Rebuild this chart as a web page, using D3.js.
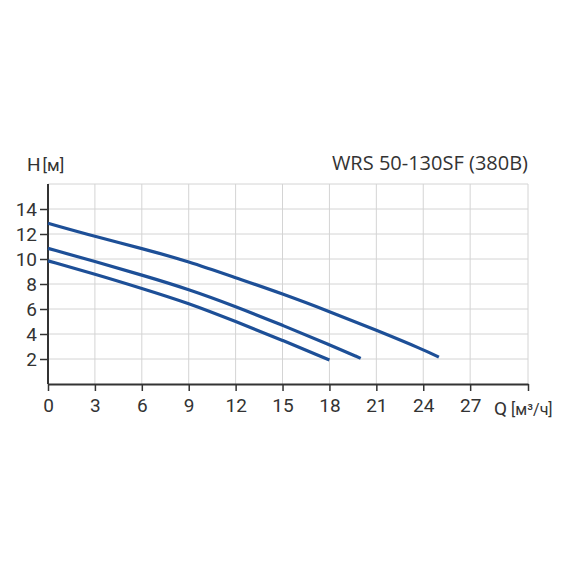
<!DOCTYPE html>
<html>
<head>
<meta charset="utf-8">
<script src="https://cdn.jsdelivr.net/npm/d3@7"></script>
<style>
  body { margin: 0; background: #fff; }
  text { fill: #333; }
</style>
</head>
<body>
<div id="chart"></div>
<script>
// curve data (Q m3/h, H m)
var curve_top_q = [0, 3, 6, 9, 12, 15, 18, 21, 24, 25];
var curve_top_h = [12.86, 11.8, 10.85, 9.8, 8.5, 7.22, 5.8, 4.3, 2.75, 2.15];
var curve_mid_q = [0, 3, 6, 9, 12, 15, 18, 20];
var curve_mid_h = [10.85, 9.8, 8.72, 7.58, 6.2, 4.7, 3.15, 2.05];
var curve_low_q = [0, 3, 6, 9, 12, 15, 18];
var curve_low_h = [9.85, 8.8, 7.65, 6.47, 5.0, 3.5, 1.92];
var x_ticks = [0, 3, 6, 9, 12, 15, 18, 21, 24, 27];
var y_ticks = [2, 4, 6, 8, 10, 12, 14];
var title_text = 'WRS 50-130SF (380В)';

const svg_width = 570, svg_height = 570;
const plot_left = 48, plot_right = 528, plot_top = 184, plot_bottom = 384;
const curve_color = '#1d4f97';

var svg = d3.select('#chart').append('svg')
  .attr('width', svg_width)
  .attr('height', svg_height);

var x = d3.scaleLinear().domain([0, 30.7]).range([plot_left, plot_right]);
var y = d3.scaleLinear().domain([0, 16]).range([plot_bottom, plot_top]);

// grid
var grid = svg.append('g').attr('stroke', '#d4d4d4').attr('stroke-width', 1);
x_ticks.concat([30.7]).forEach(function(t){
  if (t === 0) return;
  grid.append('line')
    .attr('x1', x(t)).attr('x2', x(t))
    .attr('y1', plot_top).attr('y2', plot_bottom);
});
y_ticks.concat([16]).forEach(function(t){
  grid.append('line')
    .attr('x1', plot_left).attr('x2', plot_right)
    .attr('y1', y(t)).attr('y2', y(t));
});

// axes
var xAxis = d3.axisBottom(x).tickValues(x_ticks.concat([30.7]))
  .tickFormat(function(d){ return d > 28 ? '' : d; })
  .tickSize(7).tickSizeOuter(0).tickPadding(8);
var gx = svg.append('g')
  .attr('transform', `translate(0,${plot_bottom})`)
  .call(xAxis);
var yAxis = d3.axisLeft(y).tickValues(y_ticks)
  .tickSize(8).tickSizeOuter(0).tickPadding(3);
var gy = svg.append('g')
  .attr('transform', `translate(${plot_left},0)`)
  .call(yAxis);

[gx, gy].forEach(function(g){
  g.select('.domain').attr('stroke', '#333').attr('stroke-width', 2);
  g.selectAll('.tick line').attr('stroke', '#333').attr('stroke-width', 1.5);
  g.selectAll('.tick text')
    .attr('font-family', 'Roboto, sans-serif')
    .attr('font-size', 19)
    .attr('fill', '#333');
});
gy.select('.domain').attr('d', `M0,${plot_top}V${plot_bottom}`);

// curves
var line = d3.line()
  .x(d => x(d[0]))
  .y(d => y(d[1]))
  .curve(d3.curveBasis);

[[curve_top_q, curve_top_h], [curve_mid_q, curve_mid_h], [curve_low_q, curve_low_h]]
  .forEach(function(c){
    var pts = c[0].map((q, i) => [q, c[1][i]]);
    svg.append('path')
      .datum(pts)
      .attr('d', line)
      .attr('fill', 'none')
      .attr('stroke', curve_color)
      .attr('stroke-width', 3.2);
  });

// labels
var hl = svg.append('text')
  .attr('x', 27).attr('y', 171)
  .attr('font-family', 'Roboto, sans-serif')
  .attr('font-size', 19);
hl.append('tspan').text('H');
hl.append('tspan').attr('dx', 2).attr('font-size', 17).text('[м]');

svg.append('text')
  .attr('x', 528).attr('y', 170)
  .attr('text-anchor', 'end')
  .attr('font-family', '"Open Sans", sans-serif')
  .attr('font-size', 20)
  .text(title_text);

var ql = svg.append('text')
  .attr('x', 494).attr('y', 415)
  .attr('font-family', 'Roboto, sans-serif')
  .attr('font-size', 19);
ql.append('tspan').text('Q');
ql.append('tspan').attr('dx', 4).attr('font-size', 16).text('[м³/ч]');
</script>
</body>
</html>
